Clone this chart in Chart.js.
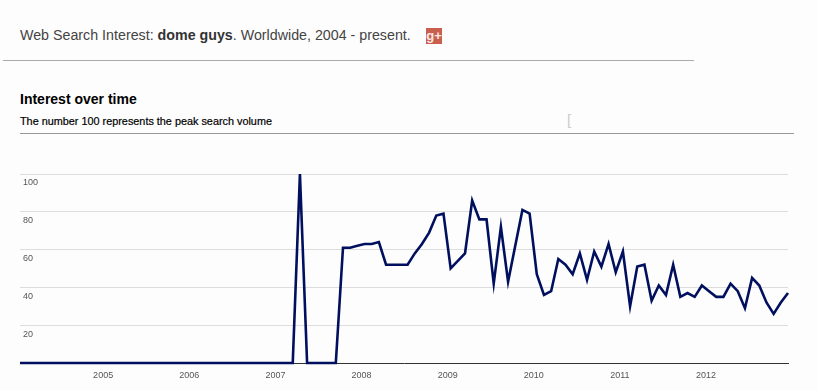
<!DOCTYPE html>
<html>
<head>
<meta charset="utf-8">
<script src="https://cdn.jsdelivr.net/npm/chart.js@4/dist/chart.umd.min.js"></script>
<style>
  html, body { margin: 0; padding: 0; background: #fdfdfd; }
  body { width: 818px; height: 390px; position: relative; overflow: hidden; font-family: "Liberation Sans", Arial, sans-serif; }
  canvas { position: absolute; left: 0; top: 0; }
  .txt { position: absolute; white-space: nowrap; }
  #head { left: 20px; top: 26px; font-size: 14.25px; line-height: 18px; color: #444; }
  #head b { color: #333; }
  #title { left: 20px; top: 91px; font-size: 14px; line-height: 16px; font-weight: bold; color: #000; }
  #sub { left: 20px; top: 115px; font-size: 10.85px; line-height: 13px; color: #000; -webkit-text-stroke: 0.2px #000; }
  #cursor { left: 567px; top: 112px; font-size: 15px; line-height: 16px; color: #ccc; }
  .rule { position: absolute; height: 1px; background: #aaa; }
  #plus { position: absolute; left: 426px; top: 28px; width: 16px; height: 16px; background: #c9604f; color: #fbe9e4; font-size: 13px; line-height: 15px; font-weight: bold; text-align: center; }
</style>
</head>
<body>
<div class="txt" id="head">Web Search Interest: <b>dome guys</b>. Worldwide, 2004 - present.</div>
<div id="plus">g+</div>
<div class="rule" style="left:3px;top:60px;width:691px"></div>
<div class="txt" id="title">Interest over time</div>
<div class="txt" id="sub">The number 100 represents the peak search volume</div>
<div class="txt" id="cursor">[</div>
<div class="rule" style="left:20px;top:133px;width:774px;background:#999"></div>
<canvas id="chart-1" width="818" height="390"></canvas>
<script>
const years = [2004, 2005, 2006, 2007, 2008, 2009, 2010, 2011, 2012];
const months = ["01", "02", "03", "04", "05", "06", "07", "08", "09", "10", "11", "12"];
const interest = [
  0, 0, 0, 0, 0, 0, 0, 0, 0, 0, 0, 0,
  0, 0, 0, 0, 0, 0, 0, 0, 0, 0, 0, 0,
  0, 0, 0, 0, 0, 0, 0, 0, 0, 0, 0, 0,
  0, 0, 0, 100, 0, 0, 0, 0, 0, 61, 61, 62,
  63, 63, 64, 52, 52, 52, 52, 58, 63, 69, 78, 79,
  50, 54, 58, 86, 76, 76, 42, 72, 43, 62, 81, 79,
  47, 36, 38, 55, 52, 47, 58, 44, 59, 51, 63, 48,
  59, 30, 51, 52, 33, 41, 36, 52, 35, 37, 35, 41,
  38, 35, 35, 42, 38, 29, 45, 41, 32, 26, 32, 37,
];
const yTicks = [20, 40, 60, 80, 100];

const labels = [];
years.forEach(function (y) {
  months.forEach(function (m) {
    labels.push(y + "-" + m);
  });
});

new Chart(document.getElementById("chart-1"), {
  type: "line",
  data: {
    labels: labels,
    datasets: [
      {
        label: "dome guys",
        data: interest,
        borderColor: "#00105f",
        borderWidth: 2.6,
        pointRadius: 0,
        tension: 0,
        borderJoinStyle: "miter",
        clip: false,
      },
    ],
  },
  options: {
    responsive: false,
    animation: false,
    layout: {
      padding: { left: 20, right: 30, top: 174, bottom: 0 },
    },
    plugins: {
      legend: { display: false },
      tooltip: { enabled: false },
    },
    scales: {
      x: {
        type: "category",
        offset: false,
        afterFit: function (scale) {
          scale.height = 27;
        },
        grid: { display: false },
        border: { color: "#333333", width: 1 },
        ticks: {
          autoSkip: false,
          maxRotation: 0,
          padding: -1,
          labelOffset: -3,
          color: "#555555",
          font: { family: "Liberation Sans", size: 9 },
          callback: function (value, index) {
            const label = labels[index];
            if (label.endsWith("-01") && index > 0) {
              return label.slice(0, 4);
            }
            return "";
          },
        },
      },
      y: {
        min: 0,
        max: 100,
        afterFit: function (scale) {
          scale.width = 0;
        },
        afterBuildTicks: function (scale) {
          scale.ticks = yTicks.map(function (v) {
            return { value: v };
          });
        },
        grid: { color: "#dddddd", drawTicks: false, lineWidth: 1 },
        border: { display: false },
        ticks: {
          mirror: true,
          padding: 3,
          labelOffset: 9,
          color: "#555555",
          font: { family: "Liberation Sans", size: 9 },
        },
      },
    },
  },
});
</script>
</body>
</html>
